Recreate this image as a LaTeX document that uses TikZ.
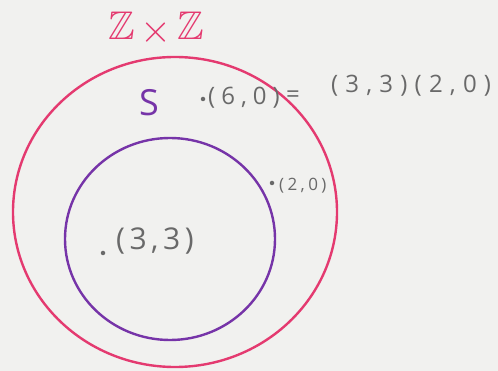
\documentclass[tikz,border=0pt]{standalone}
\usepackage{amssymb}
\usepackage{graphicx}
\usepackage{fontspec}
\setmainfont{Open Sans}
\definecolor{pinkc}{RGB}{228,58,112}
\definecolor{purplec}{RGB}{118,52,168}
\definecolor{pencil}{RGB}{105,105,105}
\definecolor{paper}{RGB}{241,241,239}
\tikzset{
  setline/.style={line width=2.4pt},
  lbl/.style={text=pencil, inner sep=0pt, anchor=west},
  dotmark/.style={circle, fill=pencil, inner sep=0pt, minimum size=4.5pt}
}
\begin{document}
\begin{tikzpicture}[x=1pt,y=-1pt]
\useasboundingbox (0,0) rectangle (498,371);
\fill[paper] (0,0) rectangle (498,371);
% outer set Z x Z
\draw[setline, pinkc] (175,212) ellipse [x radius=162, y radius=155];
\node[text=pinkc, font=\fontsize{40}{42}\selectfont, inner sep=0pt] (zz) at (156,29) {$\mathbb{Z}\mathbin{\vcenter{\hbox{\scalebox{1.6}{$\times$}}}}\mathbb{Z}$};
% inner set S
\draw[setline, purplec] (170,239) ellipse [x radius=105, y radius=101];
\node[text=purplec, font=\fontsize{36}{38}\selectfont, inner sep=0pt] (s) at (149,103) {S};
% points
\node[dotmark] (p60) at (203,99) {};
\node[lbl, font=\fontsize{24}{26}\selectfont\addfontfeature{LetterSpace=25}] (l60) at (208,98) {(6,0)};
\node[lbl, font=\fontsize{24}{26}\selectfont] (eq) at (286,97) {=};
\node[lbl, font=\fontsize{24}{26}\selectfont\addfontfeature{LetterSpace=30}] (l3320) at (331,86) {(3,3)(2,0)};
\node[dotmark] (p20) at (272,183) {};
\node[lbl, font=\fontsize{17}{19}\selectfont\addfontfeature{LetterSpace=20}] (l20) at (279,186) {(2,0)};
\node[dotmark] (p33) at (103,253) {};
\node[lbl, font=\fontsize{30}{32}\selectfont\addfontfeature{LetterSpace=15}] (l33) at (116,241) {(3,3)};
\end{tikzpicture}
\end{document}
